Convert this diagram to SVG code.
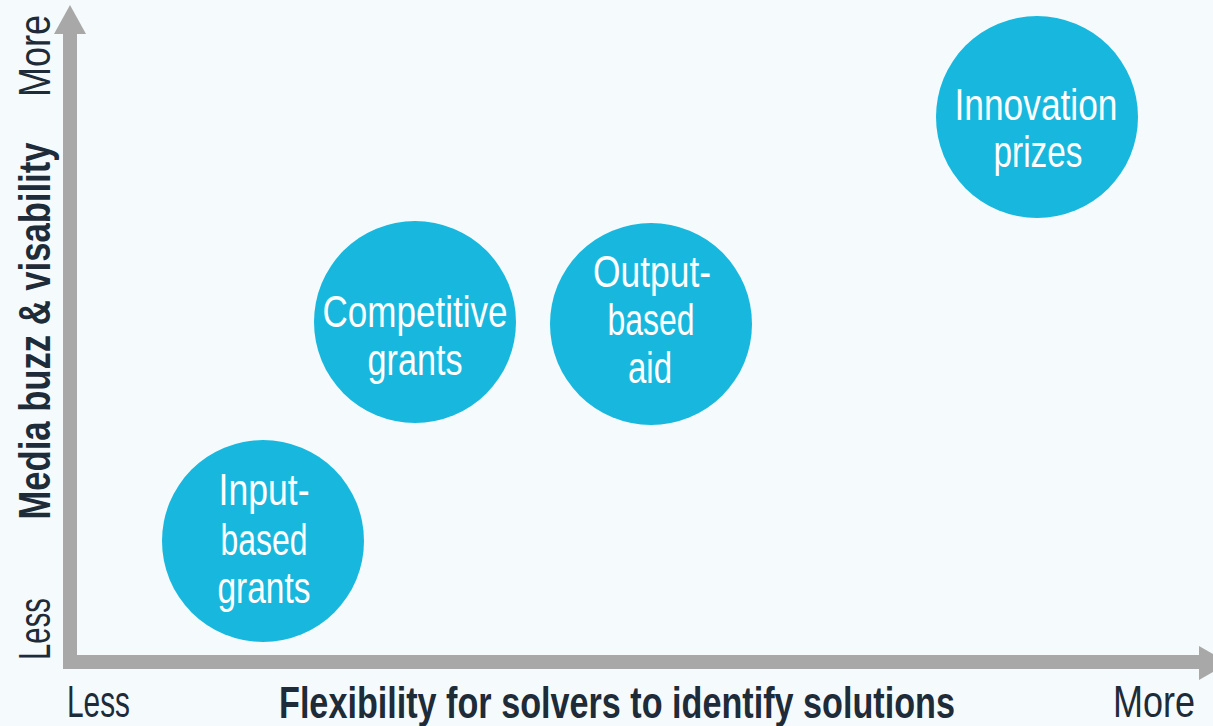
<svg xmlns="http://www.w3.org/2000/svg" width="1213" height="726" viewBox="0 0 1213 726">
  <style>
    .bg { fill: #f5fbfc; }
    .bubble { fill: #18b8de; }
    .btxt { font-family: "Liberation Sans", Arial, sans-serif; font-size: 44px; fill: #ffffff; text-anchor: middle; }
    .axis { fill: none; stroke: #a8a8a8; stroke-width: 14; stroke-linejoin: miter; }
    .head { fill: #a8a8a8; }
    .lbl { font-family: "Liberation Sans", Arial, sans-serif; font-size: 44px; fill: #1e2b38; text-anchor: middle; }
    .bold { font-weight: bold; }
  </style>
  <rect class="bg" x="0" y="0" width="1213" height="726"/>

  <g id="connectors">
    <path class="axis" d="M70,30 L70,662 L1202,662"/>
    <polygon class="head" points="70,5 54,34 86,34"/>
    <polygon class="head" points="1199,646 1229,663 1199,680"/>
  </g>

  <g id="axis-labels">
    <text class="lbl bold" transform="translate(50,331) rotate(-90)" textLength="377" lengthAdjust="spacingAndGlyphs">Media buzz &amp; visability</text>
    <text class="lbl" transform="translate(50,56) rotate(-90)" textLength="82" lengthAdjust="spacingAndGlyphs">More</text>
    <text class="lbl" transform="translate(50,629) rotate(-90)" textLength="62" lengthAdjust="spacingAndGlyphs">Less</text>
    <text class="lbl" x="98.5" y="717" textLength="63" lengthAdjust="spacingAndGlyphs">Less</text>
    <text class="lbl" x="1154" y="717" textLength="82" lengthAdjust="spacingAndGlyphs">More</text>
    <text class="lbl bold" x="617" y="718" textLength="676" lengthAdjust="spacingAndGlyphs">Flexibility for solvers to identify solutions</text>
  </g>

  <g id="node-input-based-grants">
    <circle class="bubble" cx="263" cy="541" r="101"/>
    <text class="btxt" x="264" y="505" textLength="91" lengthAdjust="spacingAndGlyphs">Input-</text>
    <text class="btxt" x="264" y="555" textLength="87" lengthAdjust="spacingAndGlyphs">based</text>
    <text class="btxt" x="264" y="603" textLength="93" lengthAdjust="spacingAndGlyphs">grants</text>
  </g>

  <g id="node-competitive-grants">
    <circle class="bubble" cx="415" cy="322" r="101"/>
    <text class="btxt" x="415" y="327" textLength="185" lengthAdjust="spacingAndGlyphs">Competitive</text>
    <text class="btxt" x="415" y="375" textLength="95" lengthAdjust="spacingAndGlyphs">grants</text>
  </g>

  <g id="node-output-based-aid">
    <circle class="bubble" cx="651" cy="324" r="101"/>
    <text class="btxt" x="652" y="287" textLength="118" lengthAdjust="spacingAndGlyphs">Output-</text>
    <text class="btxt" x="651" y="335" textLength="87" lengthAdjust="spacingAndGlyphs">based</text>
    <text class="btxt" x="650" y="383" textLength="44" lengthAdjust="spacingAndGlyphs">aid</text>
  </g>

  <g id="node-innovation-prizes">
    <circle class="bubble" cx="1037" cy="117" r="101"/>
    <text class="btxt" x="1036" y="120" textLength="163" lengthAdjust="spacingAndGlyphs">Innovation</text>
    <text class="btxt" x="1038" y="167" textLength="89" lengthAdjust="spacingAndGlyphs">prizes</text>
  </g>
</svg>
